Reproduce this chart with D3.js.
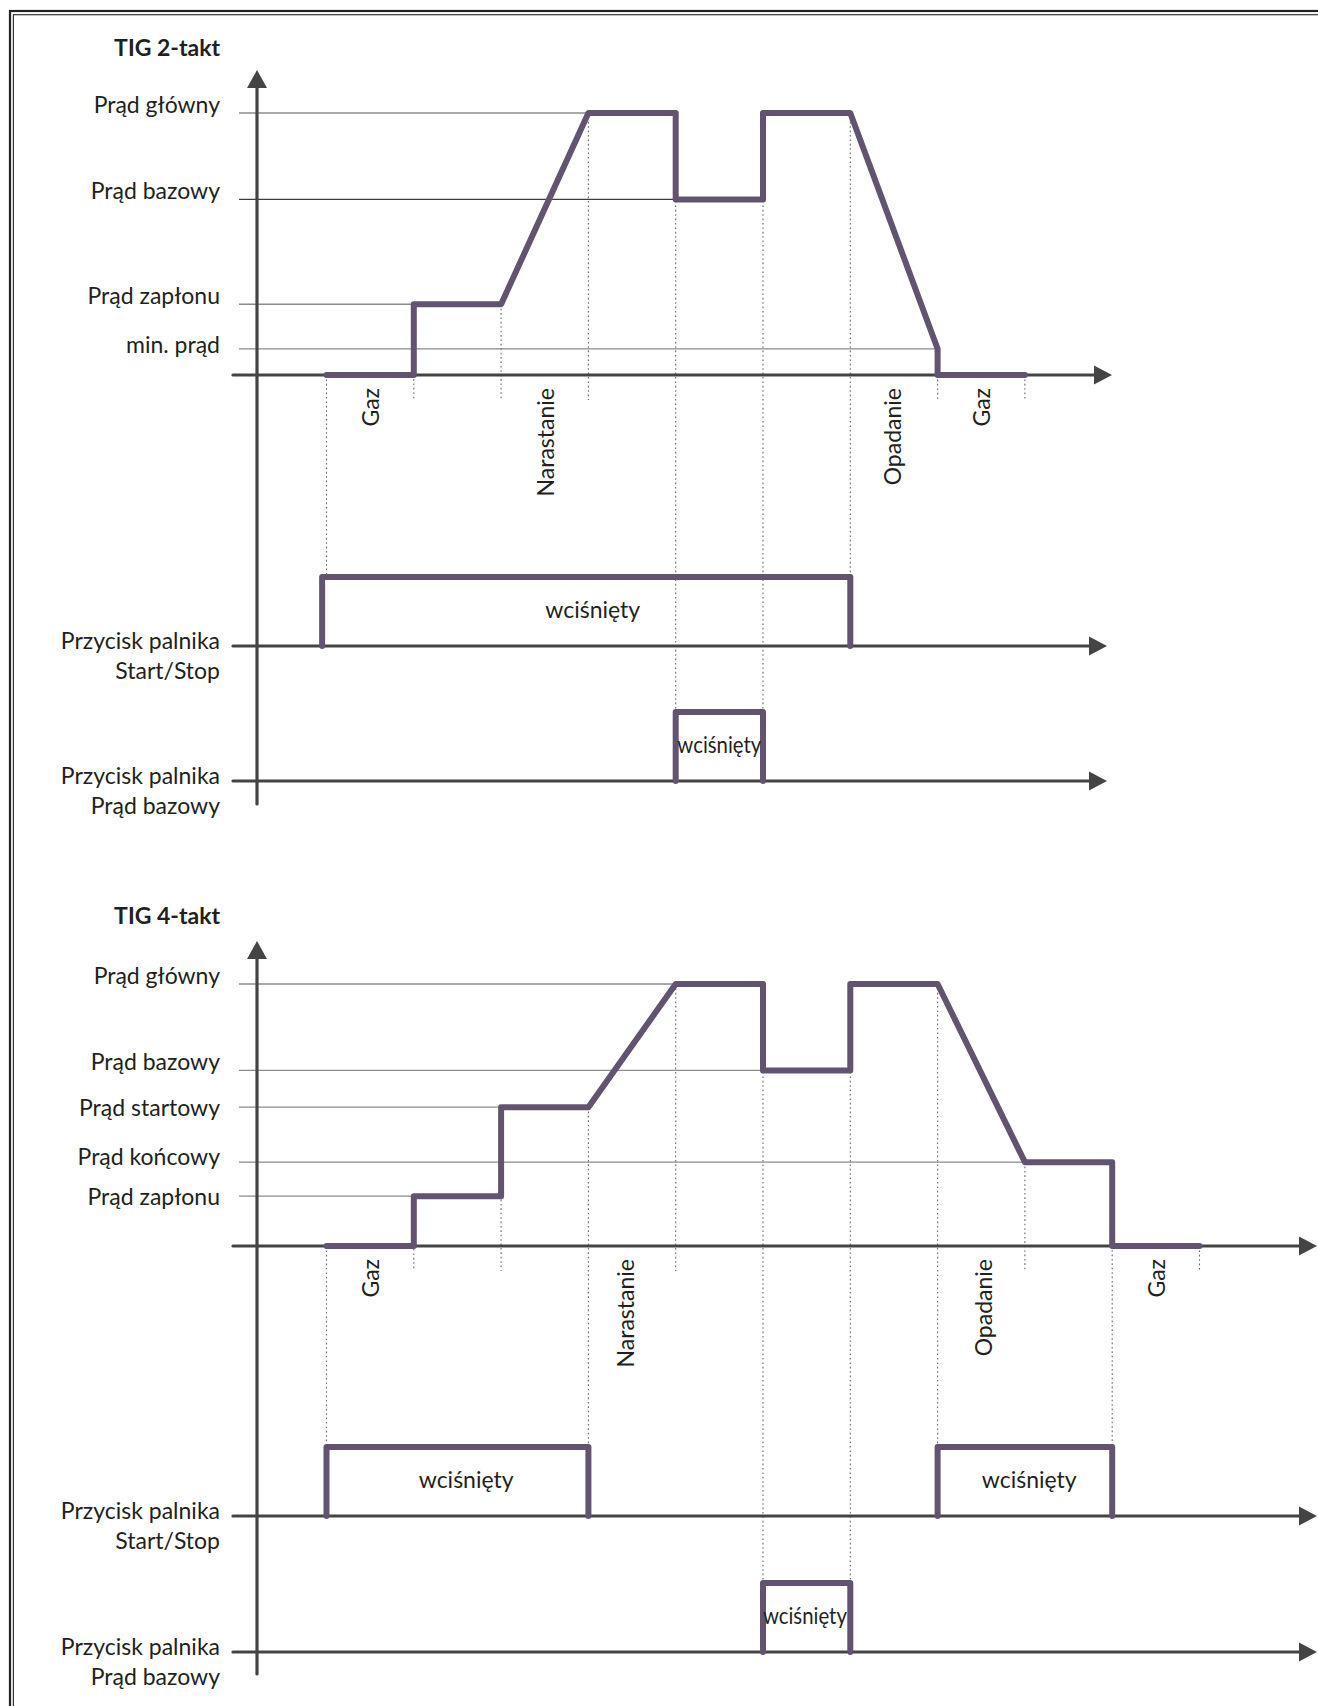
<!DOCTYPE html>
<html>
<head>
<meta charset="utf-8">
<script src="https://cdn.jsdelivr.net/npm/d3@7"></script>
<style>
  body { margin: 0; background: #fff; }
  svg { display: block; }
  text { font-family: Lato, 'Open Sans', sans-serif; fill: #231f20; }
</style>
</head>
<body>
<svg id="board" width="1318" height="1706"></svg>
<script>
// ---- TIG 2-takt data ----
let title2 = 'TIG 2-takt'
let levelNames2 = ['Prąd główny', 'Prąd bazowy', 'Prąd zapłonu', 'min. prąd']
let levelValues2 = [100, 67, 27, 10]
let levelUntil2 = [3, 4, 1, 7]          // time step where the reference line ends
let current2 = [[0, 0], [1, 0], [1, 27], [2, 27], [3, 100], [4, 100], [4, 67], [5, 67],
                [5, 100], [6, 100], [7, 10], [7, 0], [8, 0]]
let phaseNames2 = ['Gaz', 'Narastanie', 'Opadanie', 'Gaz']
let phaseAt2 = [0.5, 2.5, 6.48, 7.5]
let startStop2 = [[-0.05, 6]]
let startStopText2 = [3.05]
let baseButton2 = [[4, 5]]
let baseButtonText2 = [4.5]

// ---- TIG 4-takt data ----
let title4 = 'TIG 4-takt'
let levelNames4 = ['Prąd główny', 'Prąd bazowy', 'Prąd startowy', 'Prąd końcowy', 'Prąd zapłonu']
let levelValues4 = [100, 67, 53, 32, 19]
let levelUntil4 = [4, 5, 2, 8, 1]
let current4 = [[0, 0], [1, 0], [1, 19], [2, 19], [2, 53], [3, 53], [4, 100], [5, 100],
                [5, 67], [6, 67], [6, 100], [7, 100], [8, 32], [9, 32], [9, 0], [10, 0]]
let phaseNames4 = ['Gaz', 'Narastanie', 'Opadanie', 'Gaz']
let phaseAt4 = [0.5, 3.42, 7.52, 9.5]
let startStop4 = [[0, 3], [7, 9]]
let startStopText4 = [1.6, 8.05]
let baseButton4 = [[5, 6]]
let baseButtonText4 = [5.48]

let buttonNames = [['Przycisk palnika', 'Start/Stop'], ['Przycisk palnika', 'Prąd bazowy']]

// ---- layout ----
let purple = '#625470'
let axisColor = '#444'
let labelRight = 220
let axisX = 257

let board = d3.select('#board')
let x = d3.scaleLinear().domain([0, 10]).range([326.5, 1199.5])

// double frame
board.append('rect').attr('x', 10).attr('y', 11).attr('width', 1400).attr('height', 1800)
    .attr('fill', 'none').attr('stroke', '#222').attr('stroke-width', 2.2)
board.append('rect').attr('x', 13.4).attr('y', 14.7).attr('width', 1400).attr('height', 1800)
    .attr('fill', 'none').attr('stroke', '#333').attr('stroke-width', 1.2)

let drawArrowAxis = (g, ay, xEnd) => {
    g.append('line').attr('x1', 233).attr('x2', xEnd - 12)
        .attr('y1', ay).attr('y2', ay)
        .attr('stroke', axisColor).attr('stroke-width', 3.2).attr('stroke-linecap', 'round')
    g.append('path')
        .attr('d', `M${xEnd},${ay} L${xEnd - 18},${ay - 9.5} L${xEnd - 18},${ay + 9.5} Z`)
        .attr('fill', axisColor)
}

let drawPanel = (cfg, d) => {
    let g = board.append('g')
    let y = d3.scaleLinear().domain([0, 100]).range([cfg.axisY, cfg.axisY - 262])
    let buttonY = cfg.buttonAxes.map((a) => d3.scaleLinear().domain([0, 1]).range([a, a - 69]))
    let buttons = [d.startStop, d.baseButton]

    // title
    g.append('text').text(d.title)
        .attr('x', labelRight).attr('y', cfg.titleY)
        .attr('text-anchor', 'end').attr('font-size', 23).attr('font-weight', 700)

    // reference lines + level labels
    d.levelNames.forEach((name, i) => {
        g.append('line')
            .attr('x1', 239).attr('x2', x(d.levelUntil[i]))
            .attr('y1', y(d.levelValues[i])).attr('y2', y(d.levelValues[i]))
            .attr('stroke', cfg.refColors[i]).attr('stroke-width', 1.3)
        g.append('text').text(name)
            .attr('x', labelRight).attr('y', y(d.levelValues[i]) + cfg.labelShift[i])
            .attr('text-anchor', 'end').attr('font-size', 23)
    })

    // dotted guides
    let steps = d3.range(0, d3.max(d.current, (p) => p[0]) + 1)
    steps.forEach((t) => {
        let top = d3.max(d.current.filter((p) => p[0] === t), (p) => p[1])
        let isEdge = (list) => list.some((iv) => Math.abs(iv[0] - t) < 0.1 || Math.abs(iv[1] - t) < 0.1)
        let end = cfg.axisY + 25
        if (isEdge(buttons[1])) end = buttonY[1](1)
        else if (isEdge(buttons[0])) end = buttonY[0](1)
        g.append('line')
            .attr('x1', x(t)).attr('x2', x(t))
            .attr('y1', y(top)).attr('y2', end)
            .attr('stroke', '#666').attr('stroke-width', 1.1)
            .attr('stroke-dasharray', '1.6,2.8')
    })

    // y axis with arrow
    g.append('line').attr('x1', axisX).attr('x2', axisX)
        .attr('y1', cfg.yTop + 14).attr('y2', cfg.yBottom)
        .attr('stroke', axisColor).attr('stroke-width', 3.2).attr('stroke-linecap', 'round')
    g.append('path')
        .attr('d', `M${axisX},${cfg.yTop} L${axisX + 10},${cfg.yTop + 18} L${axisX - 10},${cfg.yTop + 18} Z`)
        .attr('fill', axisColor)

    // x axes (current + two buttons)
    drawArrowAxis(g, cfg.axisY, cfg.xEnd)
    cfg.buttonAxes.forEach((ay) => drawArrowAxis(g, ay, cfg.buttonXEnd))

    // current curve
    let line = d3.line().x((p) => x(p[0])).y((p) => y(p[1]))
    g.append('path').attr('d', line(d.current))
        .attr('fill', 'none').attr('stroke', purple).attr('stroke-width', 6)
        .attr('stroke-linejoin', 'round').attr('stroke-linecap', 'round')

    // phase labels
    d.phaseNames.forEach((name, i) => {
        g.append('text').text(name)
            .attr('transform', `translate(${x(d.phaseAt[i])},${cfg.axisY + 13}) rotate(-90)`)
            .attr('text-anchor', 'end').attr('dominant-baseline', 'central')
            .attr('font-size', 23)
    })

    // buttons
    buttons.forEach((list, b) => {
        let by = buttonY[b]
        let pulse = d3.line().x((p) => x(p[0])).y((p) => by(p[1]))
        list.forEach((iv, k) => {
            g.append('path')
                .attr('d', pulse([[iv[0], 0], [iv[0], 1], [iv[1], 1], [iv[1], 0]]))
                .attr('fill', 'none').attr('stroke', purple).attr('stroke-width', 6)
                .attr('stroke-linejoin', 'round').attr('stroke-linecap', 'round')
            let label = g.append('text').text('wciśnięty')
                .attr('x', x(d.buttonText[b][k])).attr('y', by(0) - 28)
                .attr('text-anchor', 'middle').attr('font-size', 23)
            if (b === 1) label.attr('textLength', 84).attr('lengthAdjust', 'spacingAndGlyphs')
        })
        buttonNames[b].forEach((txt, j) => {
            g.append('text').text(txt)
                .attr('x', labelRight).attr('y', by(0) + 3 + j * 30)
                .attr('text-anchor', 'end').attr('font-size', 23)
        })
    })
}

drawPanel(
    { axisY: 375, yTop: 70, yBottom: 804, xEnd: 1112, buttonXEnd: 1107, buttonAxes: [646, 781], titleY: 56,
      labelShift: [0, 0, 0, 4], refColors: ['#8c8c8c', '#3c3c3c', '#8c8c8c', '#8c8c8c'] },
    { title: title2, levelNames: levelNames2, levelValues: levelValues2, levelUntil: levelUntil2,
      current: current2, phaseNames: phaseNames2, phaseAt: phaseAt2,
      startStop: startStop2, baseButton: baseButton2, buttonText: [startStopText2, baseButtonText2] }
)

drawPanel(
    { axisY: 1246, yTop: 941, yBottom: 1674, xEnd: 1317, buttonXEnd: 1317, buttonAxes: [1516, 1652], titleY: 924,
      labelShift: [0, 0, 9, 3, 9], refColors: ['#8c8c8c', '#8c8c8c', '#8c8c8c', '#8c8c8c', '#8c8c8c'] },
    { title: title4, levelNames: levelNames4, levelValues: levelValues4, levelUntil: levelUntil4,
      current: current4, phaseNames: phaseNames4, phaseAt: phaseAt4,
      startStop: startStop4, baseButton: baseButton4, buttonText: [startStopText4, baseButtonText4] }
)
</script>
</body>
</html>
